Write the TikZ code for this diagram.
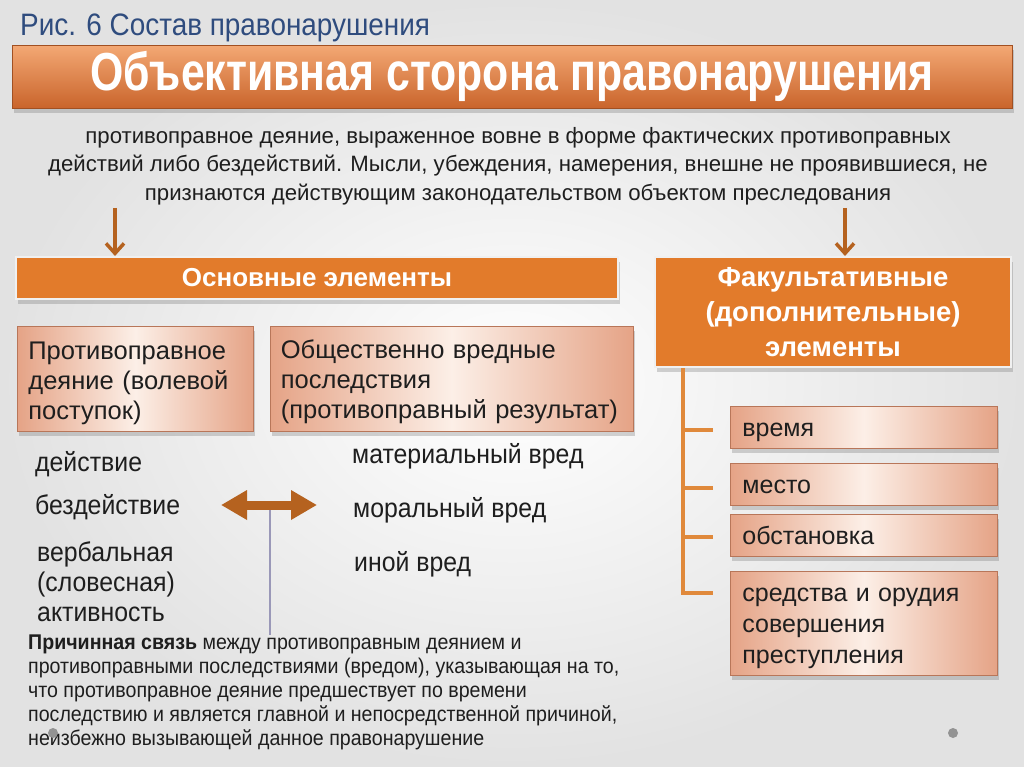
\documentclass[tikz,border=0pt]{standalone}
\usepackage{fontspec}
\setmainfont{Liberation Sans}
\newfontfamily\narrow[FakeStretch=0.90]{Liberation Sans}
\newfontfamily\narrowB[FakeStretch=0.92]{Liberation Sans}
\newfontfamily\cond[FakeStretch=0.80]{Liberation Sans}
\usetikzlibrary{arrows.meta,shadows,calc}
\definecolor{bgedge}{HTML}{E2E2E2}
\definecolor{titleblue}{HTML}{2F4C7E}
\definecolor{orangeA}{HTML}{F3A874}
\definecolor{orangeB}{HTML}{C9642B}
\definecolor{headfill}{HTML}{E27B2B}
\definecolor{pinkedge}{HTML}{E5A386}
\definecolor{pinkmid}{HTML}{FCEFE7}
\definecolor{pinkdraw}{HTML}{B87659}
\definecolor{arrowbrown}{HTML}{B5621F}
\definecolor{lineorange}{HTML}{E0893B}
\definecolor{txt}{HTML}{1E1E1E}
\definecolor{vline}{HTML}{9A98B8}
\tikzset{
  shad/.style={drop shadow={shadow xshift=2pt,shadow yshift=-5pt,opacity=0.28,fill=black!60}},
  headbox/.style={fill=headfill,draw=white!88!gray,line width=2pt,shad,text=white,
     font=\fontsize{26}{34}\selectfont\bfseries,align=center,inner sep=0pt},
  pinkbox/.style={left color=pinkedge,right color=pinkedge,middle color=pinkmid,
     draw=pinkdraw,line width=0.8pt,shad,text=txt,align=left,inner sep=0pt,anchor=north west},
  itembox/.style={pinkbox,minimum width=267pt,text width=243pt,font=\fontsize{25}{31}\selectfont},
  downarrow/.style={draw=arrowbrown,line width=3.5pt,-{Straight Barb[length=10pt,width=18pt,line width=3.5pt]}},
  item/.style={text=txt,anchor=base west,inner sep=0pt,font=\narrowB\fontsize{27}{30}\selectfont},
}
\begin{document}
\begin{tikzpicture}[x=1pt,y=-1pt]
\useasboundingbox (0,0) rectangle (1024,767);
% background
\shade[inner color=white,outer color=bgedge] (0,0) rectangle (1024,767);

% title
\node[text=titleblue,anchor=base west,inner sep=0pt,font=\narrow\fontsize{31}{34}\selectfont] (title) at (20,36) {Рис. 6 Состав правонарушения};

% banner
\node[top color=orangeA,bottom color=orangeB,draw=orangeB!80!black,line width=0.6pt,
      minimum width=1000pt,minimum height=63pt,inner sep=0pt,anchor=north west,shad,
      text=white,font=\cond\bfseries\fontsize{53.5}{56}\selectfont] (banner) at (12,45)
      {Объективная сторона правонарушения};

% definition paragraph
\node[text=txt,align=center,inner sep=0pt,font=\fontsize{22.2}{28.5}\selectfont] (def) at (518,166)
 {противоправное деяние, выраженное вовне в форме фактических противоправных\\
  действий либо бездействий. Мысли, убеждения, намерения, внешне не проявившиеся, не\\
  признаются действующим законодательством объектом преследования};

% heads
\node[headbox,minimum width=602pt,minimum height=42pt,anchor=north west] (main) at (15,256) {Основные элементы};
\node[headbox,minimum width=356pt,minimum height=110pt,anchor=north west,
      font=\fontsize{27.5}{35}\selectfont\bfseries] (opt) at (654,256)
      {Факультативные\\(дополнительные)\\элементы};

% down arrows
\coordinate (a1s) at (115,208);
\coordinate (a2s) at (845,208);
\draw[downarrow] (a1s) -- (main.north -| a1s);
\draw[downarrow] (a2s) -- (opt.north -| a2s);

% pink boxes left
\node[pinkbox,minimum width=236pt,minimum height=105pt,text width=214pt,text height=26pt,
      font=\fontsize{25.5}{30}\selectfont] (deed) at (17,326)
      {Противоправное\\деяние (волевой\\поступок)};
\node[pinkbox,minimum width=363pt,minimum height=105pt,text width=342pt,text height=25pt,
      font=\fontsize{25.5}{30}\selectfont] (cons) at (270,326)
      {Общественно вредные\\последствия\\(противоправный результат)};

% left list
\node[item] (l1) at (35,471) {действие};
\node[item] (l2) at (35,514) {бездействие};
\node[item] (l3a) at (37,561) {вербальная};
\node[item] (l3b) at (37,591) {(словесная)};
\node[item] (l3c) at (37,621) {активность};

% right list
\node[item] (r1) at (352,463) {материальный вред};
\node[item] (r2) at (353,517) {моральный вред};
\node[item] (r3) at (354,571) {иной вред};

% double arrow
\coordinate (dal) at (221,505);
\coordinate (dar) at (317,505);
\coordinate (dam) at (270,505);
\draw[arrowbrown,line width=9pt,{Triangle[length=26pt,width=28pt]}-{Triangle[length=26pt,width=28pt]}] (dal) -- (dar);

% causal paragraph
\node[anchor=north west,inner sep=0pt,align=left,text=txt,font=\narrowB\fontsize{21.3}{23.8}\selectfont] (cause) at (28,635)
  {\textbf{Причинная связь} между противоправным деянием и\\
   противоправными последствиями (вредом), указывающая на то,\\
   что противоправное деяние предшествует по времени\\
   последствию и является главной и непосредственной причиной,\\
   неизбежно вызывающей данное правонарушение};
\draw[vline,line width=1.2pt] (dam)+(0,5) -- (dam |- cause.north);

% optional items
\node[itembox,minimum height=42pt,text height=23pt,text depth=5pt] (t1) at (730,406) {время};
\node[itembox,minimum height=42pt,text height=23pt,text depth=5pt] (t2) at (730,463) {место};
\node[itembox,minimum height=42pt,text height=23pt,text depth=5pt] (t3) at (730,514) {обстановка};
\node[itembox,minimum height=104pt,text height=23pt] (t4) at (730,571) {средства и орудия\\совершения\\преступления};

% tree connector
\coordinate (trunk) at (683,368);
\coordinate (tend) at (683,593);
\draw[lineorange,line width=4pt] (trunk) -- (tend);
\draw[lineorange,line width=4pt] (683,430) -- (713,430);
\draw[lineorange,line width=4pt] (683,488) -- (713,488);
\draw[lineorange,line width=4pt] (683,537) -- (713,537);
\draw[lineorange,line width=4pt] (681,593) -- (713,593);

% dots
\fill[gray!85] (53,733) circle (5pt);
\fill[gray!85] (953,733) circle (5pt);
\end{tikzpicture}
\end{document}
